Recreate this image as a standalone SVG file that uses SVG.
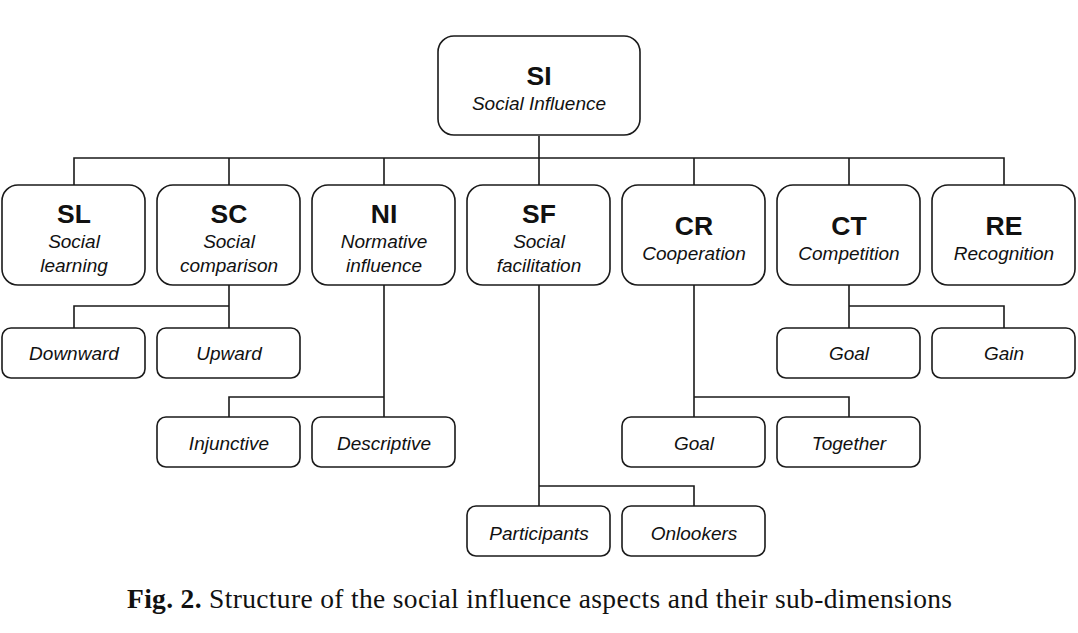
<svg xmlns="http://www.w3.org/2000/svg" width="1078" height="633" viewBox="0 0 1078 633">
<style>
.box{fill:#fff;stroke:#1a1a1a;stroke-width:1.6}
.ab{font-family:"Liberation Sans",Arial,sans-serif;font-weight:bold;font-size:26.5px;fill:#111;text-anchor:middle}
.lb{font-family:"Liberation Sans",Arial,sans-serif;font-style:italic;font-size:19px;fill:#111;text-anchor:middle}
.cn{fill:none;stroke:#1a1a1a;stroke-width:1.6}
.cap{font-family:"Liberation Serif","Times New Roman",serif;font-size:27.5px;fill:#111}
</style>
<rect width="1078" height="633" fill="#fff"/>
<g id="connectors">
<path class="cn" d="M539 136V158M74 185V158H1004V185M229 158V185M384 158V185M539 158V185M694 158V185M849 158V185"/>
<path class="cn" d="M229 285V328M74 328V306H229"/>
<path class="cn" d="M849 285V328M1004 328V306H849"/>
<path class="cn" d="M384 285V417M229 417V397H384"/>
<path class="cn" d="M694 285V417M849 417V397H694"/>
<path class="cn" d="M539 285V506M694 506V486H539"/>
</g>
<g id="SI"><rect class="box" x="438" y="36" width="202" height="99" rx="16"/><text class="ab" x="539" y="85">SI</text><text class="lb" x="539" y="110">Social Influence</text></g>
<g id="SL"><rect class="box" x="2" y="185" width="143" height="100" rx="16"/><text class="ab" x="74" y="223">SL</text><text class="lb" x="74" y="248">Social</text><text class="lb" x="74" y="272">learning</text></g>
<g id="SC"><rect class="box" x="157" y="185" width="143" height="100" rx="16"/><text class="ab" x="229" y="223">SC</text><text class="lb" x="229" y="248">Social</text><text class="lb" x="229" y="272">comparison</text></g>
<g id="NI"><rect class="box" x="312" y="185" width="143" height="100" rx="16"/><text class="ab" x="384" y="223">NI</text><text class="lb" x="384" y="248">Normative</text><text class="lb" x="384" y="272">influence</text></g>
<g id="SF"><rect class="box" x="467" y="185" width="143" height="100" rx="16"/><text class="ab" x="539" y="223">SF</text><text class="lb" x="539" y="248">Social</text><text class="lb" x="539" y="272">facilitation</text></g>
<g id="CR"><rect class="box" x="622" y="185" width="143" height="100" rx="16"/><text class="ab" x="694" y="235">CR</text><text class="lb" x="694" y="260">Cooperation</text></g>
<g id="CT"><rect class="box" x="777" y="185" width="143" height="100" rx="16"/><text class="ab" x="849" y="235">CT</text><text class="lb" x="849" y="260">Competition</text></g>
<g id="RE"><rect class="box" x="932" y="185" width="143" height="100" rx="16"/><text class="ab" x="1004" y="235">RE</text><text class="lb" x="1004" y="260">Recognition</text></g>
<g id="Downward"><rect class="box" x="2" y="328" width="143" height="50" rx="9"/><text class="lb" x="74" y="360">Downward</text></g>
<g id="Upward"><rect class="box" x="157" y="328" width="143" height="50" rx="9"/><text class="lb" x="229" y="360">Upward</text></g>
<g id="CTGoal"><rect class="box" x="777" y="328" width="143" height="50" rx="9"/><text class="lb" x="849" y="360">Goal</text></g>
<g id="Gain"><rect class="box" x="932" y="328" width="143" height="50" rx="9"/><text class="lb" x="1004" y="360">Gain</text></g>
<g id="Injunctive"><rect class="box" x="157" y="417" width="143" height="50" rx="9"/><text class="lb" x="229" y="450">Injunctive</text></g>
<g id="Descriptive"><rect class="box" x="312" y="417" width="143" height="50" rx="9"/><text class="lb" x="384" y="450">Descriptive</text></g>
<g id="CRGoal"><rect class="box" x="622" y="417" width="143" height="50" rx="9"/><text class="lb" x="694" y="450">Goal</text></g>
<g id="Together"><rect class="box" x="777" y="417" width="143" height="50" rx="9"/><text class="lb" x="849" y="450">Together</text></g>
<g id="Participants"><rect class="box" x="467" y="506" width="143" height="50" rx="9"/><text class="lb" x="539" y="540">Participants</text></g>
<g id="Onlookers"><rect class="box" x="622" y="506" width="143" height="50" rx="9"/><text class="lb" x="694" y="540">Onlookers</text></g>
<text class="cap" x="127" y="608" textLength="825" lengthAdjust="spacing"><tspan font-weight="bold">Fig. 2.</tspan> Structure of the social influence aspects and their sub-dimensions</text>
</svg>
